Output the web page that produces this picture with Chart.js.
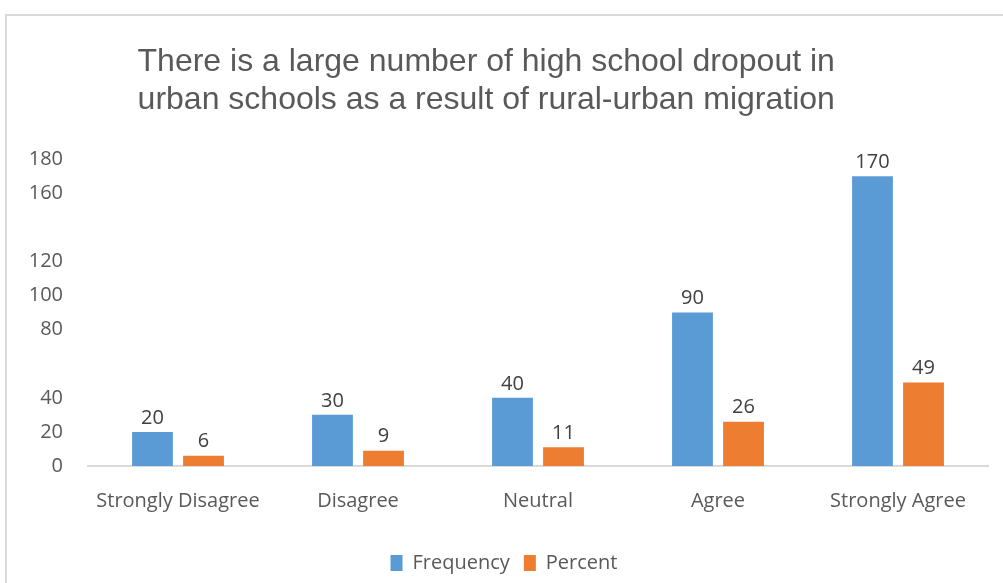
<!DOCTYPE html>
<html lang="en">
<head>
  <meta charset="UTF-8">
  <title>High school dropout survey</title>
  <script src="https://cdn.jsdelivr.net/npm/chart.js"></script>
  <style>
    html, body { margin: 0; padding: 0; background: #fff; }
    .frame {
      position: absolute; left: 5px; top: 14px; width: 1010px; height: 600px;
      border-top: 2px solid #d9d9d9; border-left: 2px solid #d9d9d9;
    }
    .chart-box { position: absolute; left: 0; top: 0; width: 1003px; height: 583px; }
  </style>
</head>
<body>
<div class="frame"></div>
<div class="chart-box">
  <canvas id="dropoutChart"></canvas>
</div>

<script>
  // survey answers
  const categories = ["Strongly Disagree", "Disagree", "Neutral", "Agree", "Strongly Agree"];
  const frequency = [20, 30, 40, 90, 170];
  const percent = [6, 9, 11, 26, 49];
  const yTicks = [0, 20, 40, 80, 100, 120, 160, 180];

  const textColor = "#595959";
  const labelFont = "'Open Sans', sans-serif";

  // value labels above each bar
  const barLabels = {
    id: "barLabels",
    afterDatasetsDraw(chart) {
      const ctx = chart.ctx;
      ctx.save();
      ctx.font = "20px " + labelFont;
      ctx.fillStyle = "#404040";
      ctx.textAlign = "center";
      ctx.textBaseline = "bottom";
      chart.data.datasets.forEach((ds, i) => {
        chart.getDatasetMeta(i).data.forEach((bar, j) => {
          ctx.fillText(ds.data[j], bar.x, bar.y - 4);
        });
      });
      ctx.restore();
    }
  };

  document.addEventListener("DOMContentLoaded", function () {
    const ctx = document.getElementById("dropoutChart").getContext("2d");

    new Chart(ctx, {
      type: "bar",
      data: {
        labels: categories,
        datasets: [
          { label: "Frequency", data: frequency, backgroundColor: "#5B9BD5" },
          { label: "Percent", data: percent, backgroundColor: "#ED7D31" }
        ]
      },
      options: {
        responsive: true,
        maintainAspectRatio: false,
        animation: false,
        categoryPercentage: 0.567,
        barPercentage: 0.8,
        layout: { padding: { left: 20, right: 15, top: 10, bottom: 0 } },
        plugins: {
          title: {
            display: true,
            // trailing spaces nudge the centred title a little to the left, like the original
            text: ["There is a large number of high school dropout in    ",
                   "urban schools as a result of rural-urban migration    "],
            font: { family: "'Liberation Sans', Arial, sans-serif", size: 32, weight: "normal", lineHeight: 1.19 },
            color: textColor,
            padding: { top: 33, bottom: 40 }
          },
          legend: {
            position: "bottom",
            labels: {
              font: { family: labelFont, size: 20 },
              color: textColor,
              boxWidth: 12,
              boxHeight: 16,
              padding: 14
            }
          },
          tooltip: { enabled: false }
        },
        scales: {
          x: {
            grid: { display: false, drawTicks: false },
            border: { color: "#d9d9d9", width: 2 },
            ticks: { font: { family: labelFont, size: 20 }, color: textColor, padding: 23 },
            afterFit: axis => { axis.height += 3; }
          },
          y: {
            min: 0,
            max: 180,
            afterBuildTicks: axis => { axis.ticks = yTicks.map(v => ({ value: v })); },
            afterFit: axis => { axis.width = 68; },
            grid: { display: false, drawTicks: false },
            border: { display: false },
            ticks: { font: { family: labelFont, size: 20 }, color: textColor, padding: 25 }
          }
        }
      },
      plugins: [barLabels]
    });
  });
</script>
</body>
</html>
